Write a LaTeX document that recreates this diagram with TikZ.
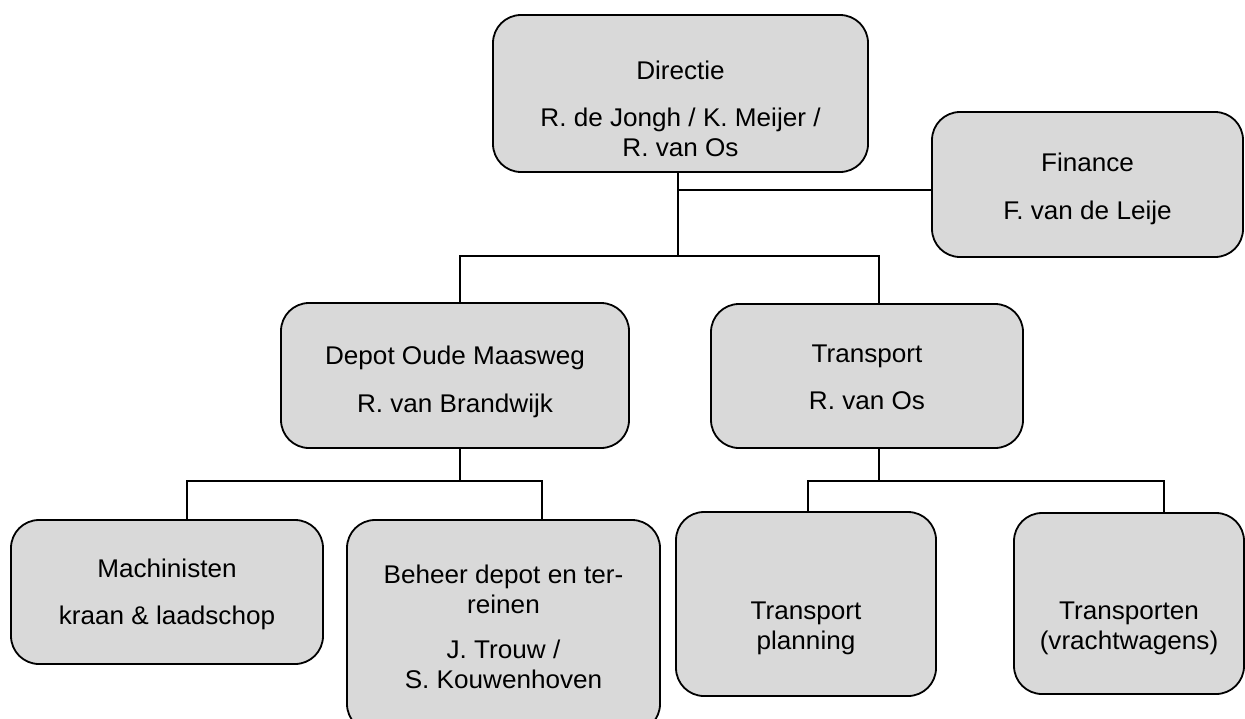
\documentclass[tikz,border=0pt]{standalone}
\usepackage{fontspec}
\setmainfont{Liberation Sans}[FakeStretch=1.02]
\usetikzlibrary{positioning}
\definecolor{boxgray}{HTML}{D9D9D9}

\begin{document}
\begin{tikzpicture}[x=0.5pt,y=-0.5pt,
    box/.style={draw=black,fill=boxgray,line width=0.9pt,rounded corners=14pt,inner sep=0pt},
    txt/.style={align=center,inner sep=0pt,font=\fontsize{12.8}{15}\selectfont},
    conn/.style={draw=black,line width=0.9pt}]
  \useasboundingbox (0,0) rectangle (1245,718);
  \node[box,minimum width=187.5pt,minimum height=78.5pt] (dir) at (680.5,93.5) {};
  \node[box,minimum width=155.5pt,minimum height=72.5pt] (fin) at (1087.5,184.5) {};
  \node[box,minimum width=174pt,minimum height=72.5pt] (dep) at (455,375.5) {};
  \node[box,minimum width=156pt,minimum height=72pt] (tra) at (867,376) {};
  \node[box,minimum width=156pt,minimum height=72pt] (mac) at (167,592) {};
  \node[box,minimum width=156.5pt,minimum height=106pt] (beh) at (503.5,626) {};
  \node[box,minimum width=130pt,minimum height=92pt] (tpl) at (806,604) {};
  \node[box,minimum width=115pt,minimum height=90.5pt] (trn) at (1129,603.5) {};
  \node[txt,below=23pt of dir.north] (dirt) {Directie\\[8.5pt]R. de Jongh / K. Meijer /\\R. van Os};
  \node[txt,below=20.5pt of fin.north] (fint) {Finance\\[9pt]F. van de Leije};
  \node[txt,below=21.5pt of dep.north] (dept) {Depot Oude Maasweg\\[9pt]R. van Brandwijk};
  \node[txt,below=20.5pt of tra.north] (trat) {Transport\\[8.5pt]R. van Os};
  \node[txt,below=19.5pt of mac.north] (mact) {Machinisten\\[8.5pt]kraan \& laadschop};
  \node[txt,below=22.5pt of beh.north] (beht) {Beheer depot en ter-\\reinen\\[7.5pt]J. Trouw /\\S. Kouwenhoven};
  \node[txt,below=45pt of tpl.north] (tplt) {Transport\\planning};
  \node[txt,below=44.5pt of trn.north] (trnt) {Transporten\\(vrachtwagens)};
  \coordinate (busF) at (0,190);
  \coordinate (busA) at (0,256);
  \coordinate (busB) at (0,481);
  \coordinate (dirS) at ([xshift=-1.25pt]dir.south);
  \coordinate (depN) at ([xshift=2.5pt]dep.north);
  \coordinate (depS) at ([xshift=2.5pt]dep.south);
  \coordinate (traN) at ([xshift=6pt]tra.north);
  \coordinate (traS) at ([xshift=6pt]tra.south);
  \coordinate (macN) at ([xshift=10pt]mac.north);
  \coordinate (behN) at ([xshift=19.25pt]beh.north);
  \coordinate (tplN) at ([xshift=1pt]tpl.north);
  \coordinate (trnN) at ([xshift=17.5pt]trn.north);
  \draw[conn] (dirS) -- (dirS |- busA);
  \draw[conn] (dirS |- busF) -- (fin.west |- busF);
  \draw[conn] (depN) |- (traN |- busA) -- (traN);
  \draw[conn] (depS) -- (depS |- busB);
  \draw[conn] (macN) |- (behN |- busB) -- (behN);
  \draw[conn] (traS) -- (traS |- busB);
  \draw[conn] (tplN) |- (trnN |- busB) -- (trnN);
\end{tikzpicture}
\end{document}
